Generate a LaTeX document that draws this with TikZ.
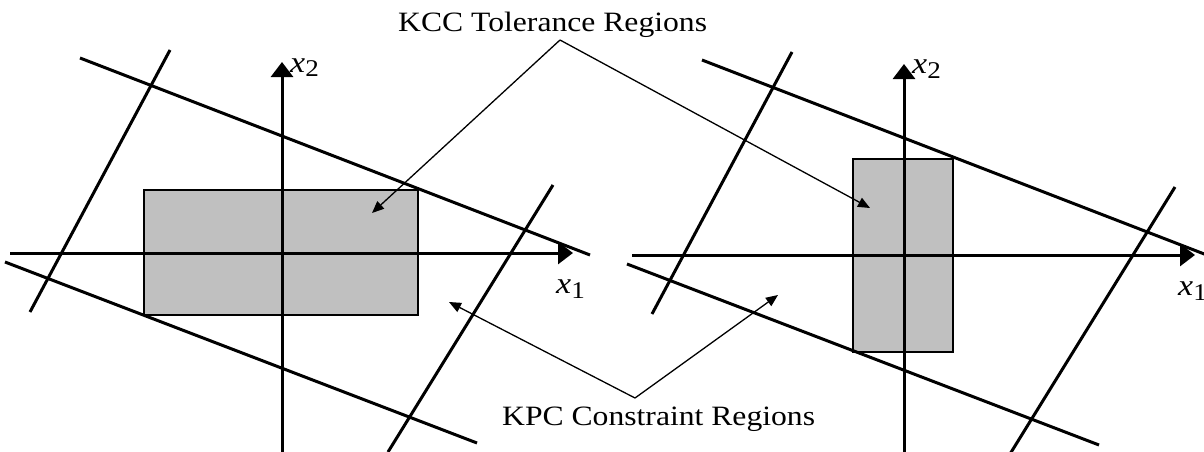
\documentclass[tikz,border=0pt]{standalone}
\usepackage{fontspec}
\setmainfont{Liberation Serif}
\newfontfamily\widefont[FakeStretch=1.13]{Liberation Serif}
\usetikzlibrary{arrows.meta}
\definecolor{regiongray}{HTML}{C0C0C0}
\newcommand{\axlab}[1]{{\widefont\fontsize{30}{30}\selectfont\itshape x}{\widefont\fontsize{24}{24}\selectfont\raisebox{-5pt}{#1}}}
\tikzset{
  bound/.style={line width=3pt},
  axisline/.style={line width=3pt,-{Triangle[length=15pt,width=22pt]}},
  region/.style={fill=regiongray,draw=black,line width=2pt},
  pointer/.style={line width=1.3pt,-{Triangle[length=12pt,width=10pt]}},
  caption/.style={inner sep=0pt,anchor=base west,font=\widefont\fontsize{28}{28}\selectfont},
  axlabel/.style={inner sep=0pt,anchor=base west}
}
\begin{document}
\begin{tikzpicture}[x=1pt,y=-1pt]
\useasboundingbox (0,0) rectangle (1204,452);
% tolerance regions
\draw[region] (144,190) rectangle (418,315);
\draw[region] (853,159) rectangle (953,352);
% left panel
\begin{scope}
  \draw[bound] (80,58) -- (590,255);
  \draw[bound] (5,262) -- (477,443);
  \draw[bound] (170,50) -- (30,312);
  \draw[bound] (553,185) -- (388,452);
  \draw[axisline] (10,253) -- (573,253);
  \draw[axisline] (282,452) -- (282,62);
  \node[axlabel] (x2L) at (290,72) {\axlab{2}};
  \node[axlabel] (x1L) at (556,293) {\axlab{1}};
\end{scope}
% right panel
\begin{scope}[shift={(622,2)}]
  \draw[bound] (80,58) -- (590,255);
  \draw[bound] (5,262) -- (477,443);
  \draw[bound] (170,50) -- (30,312);
  \draw[bound] (553,185) -- (388,452);
  \draw[axisline] (10,253) -- (573,253);
  \draw[axisline] (282,452) -- (282,62);
  \node[axlabel] (x2R) at (290,72) {\axlab{2}};
  \node[axlabel] (x1R) at (556,293) {\axlab{1}};
\end{scope}
% captions and pointers
\node[caption] (kcc) at (398,32) {KCC Tolerance Regions};
\node[caption] (kpc) at (502,425) {KPC Constraint Regions};
\coordinate (kccapex) at (560,40);
\coordinate (kcctipL) at (372,213);
\coordinate (kcctipR) at (870,208);
\coordinate (kpcapex) at (635,398);
\coordinate (kpctipL) at (449,302);
\coordinate (kpctipR) at (778,295);
\draw[pointer] (kccapex) -- (kcctipL);
\draw[pointer] (kccapex) -- (kcctipR);
\draw[pointer] (kpcapex) -- (kpctipL);
\draw[pointer] (kpcapex) -- (kpctipR);
\end{tikzpicture}
\end{document}
